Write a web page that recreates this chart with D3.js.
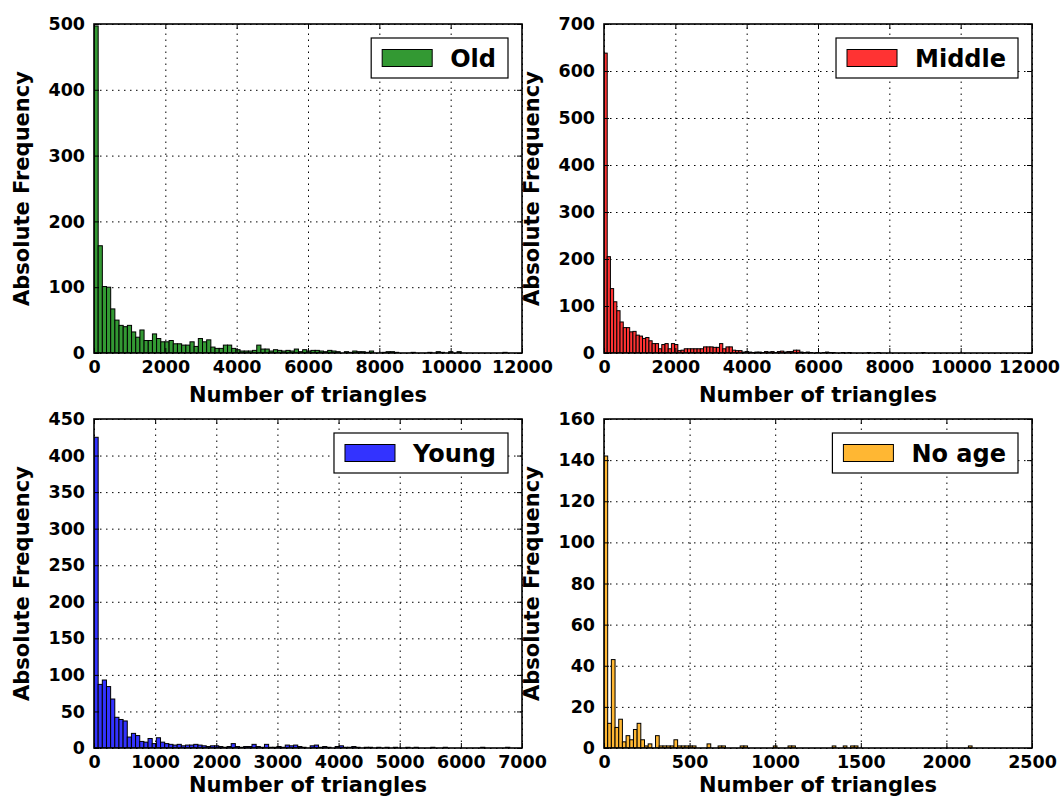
<!DOCTYPE html>
<html lang="en">
<head>
<meta charset="utf-8">
<title>Number of triangles by age</title>
<style>
	body { margin: 0; background: #fff; }
	svg text { font-family: "DejaVu Sans", sans-serif; font-weight: bold; fill: #000; }
	.grid line { stroke: #000; stroke-width: 1; stroke-dasharray: 1.5,4.5; }
	.grid path { display: none; }
	.axis path { display: none; }
	.axis line { stroke: #000; stroke-width: 1; }
</style>
</head>
<body>
<div id="chart"></div>
<script src="https://d3js.org/d3.v7.min.js"></script>
<script>

// histogram counts per bin
const oldCounts = [497,163,101,100,67,50,42,40,42,32,24,35,19,19,29,22,17,17,19,14,
	14,12,12,17,10,22,17,20,9,7,7,12,12,7,5,3,3,3,4,12,
	6,6,3,5,4,3,4,3,6,2,5,3,4,4,3,2,4,3,2,0,
	2,1,3,2,2,1,3,0,0,1,2,2,1,0,0,0,1,0,0,0,
	1,0,2,1,0,2,0,2,0,0,0,0,0,0,0,0,0,0,1,0];
const middleCounts = [638,205,137,109,90,66,54,54,45,46,38,36,31,33,26,20,20,9,18,20,
	9,20,18,5,6,9,9,9,9,9,9,13,13,13,12,12,20,9,13,13,
	6,5,5,2,3,2,1,2,2,1,3,2,3,1,3,4,2,3,3,6,
	6,2,1,2,1,0,1,0,1,2,1,1,0,0,1,0,1,0,0,0,
	0,0,1,0,0,1,0,0,0,0,0,0,0,0,0,0,0,0,0,1];
const youngCounts = [425,87,93,84,67,42,39,37,15,20,17,9,8,13,6,14,8,6,5,4,
	5,3,4,4,5,4,3,2,3,3,2,1,2,6,2,1,2,2,5,2,
	1,5,1,1,2,1,4,3,4,2,1,0,3,4,1,2,1,0,2,3,
	1,1,2,1,0,1,1,0,1,0,1,0,1,0,0,1,0,1,0,0,
	0,1,0,0,1,0,0,0,0,0,0,0,0,1,0,0,0,0,0,1];
const noAgeCounts = [142,12,43,10,14,3,6,4,9,12,4,1,2,0,6,1,1,1,1,4,
	1,1,1,1,1,0,0,0,2,0,0,1,1,0,0,0,0,1,1,0,
	0,0,0,0,0,0,1,0,0,0,1,1,0,0,0,0,0,0,0,0,
	0,0,1,0,0,1,0,1,1,0,0,0,0,0,0,0,0,0,0,0,
	0,0,0,0,0,0,0,0,0,0,0,0,0,0,0,0,0,0,0,1];

// upper edge of the last bin of each histogram
const dataMax = [11700, 9000, 6800, 2150];

const labels = ["Old", "Middle", "Young", "No age"];
const colors = ["#339933", "#ff3333", "#3333ff", "#ffb733"];

const xTicks = [
	[0, 2000, 4000, 6000, 8000, 10000, 12000],
	[0, 2000, 4000, 6000, 8000, 10000, 12000],
	[0, 1000, 2000, 3000, 4000, 5000, 6000, 7000],
	[0, 500, 1000, 1500, 2000, 2500]
];
const yTicks = [
	[0, 100, 200, 300, 400, 500],
	[0, 100, 200, 300, 400, 500, 600, 700],
	[0, 50, 100, 150, 200, 250, 300, 350, 400, 450],
	[0, 20, 40, 60, 80, 100, 120, 140, 160]
];

const allCounts = [oldCounts, middleCounts, youngCounts, noAgeCounts];

// layout of the 2x2 grid
const W = 1061, H = 798;
const lefts = [94, 604], tops = [24, 419];
const pw = 428, ph = 329;

const svg = d3.select("#chart")
	.append("svg")
	.attr("width", W)
	.attr("height", H);

allCounts.forEach(function (counts, k) {
	const col = k % 2, row = Math.floor(k / 2);
	const xt = xTicks[k], yt = yTicks[k];

	const g = svg.append("g")
		.attr("transform", "translate(" + lefts[col] + "," + tops[row] + ")");

	const x = d3.scaleLinear()
		.domain([0, xt[xt.length - 1]])
		.range([0, pw]);
	const y = d3.scaleLinear()
		.domain([0, yt[yt.length - 1]])
		.range([ph, 0]);

	g.append("clipPath").attr("id", "clip" + k)
		.append("rect").attr("width", pw).attr("height", ph);

	// grid
	g.append("g").attr("class", "grid")
		.attr("transform", "translate(0," + ph + ")")
		.call(d3.axisBottom(x).tickValues(xt).tickSize(-ph).tickFormat(""));
	g.append("g").attr("class", "grid")
		.call(d3.axisLeft(y).tickValues(yt).tickSize(-pw).tickFormat(""));

	// bars
	const bw = dataMax[k] / counts.length;
	const bars = counts.map(function (c, i) { return { i: i, c: c }; })
		.filter(function (d) { return d.c > 0; });
	g.append("g")
		.attr("clip-path", "url(#clip" + k + ")")
		.selectAll("rect")
		.data(bars)
		.enter()
		.append("rect")
		.attr("x", function (d) { return x(d.i * bw); })
		.attr("width", function (d) { return x((d.i + 1) * bw) - x(d.i * bw); })
		.attr("y", function (d) { return y(d.c); })
		.attr("height", function (d) { return ph - y(d.c); })
		.attr("fill", colors[k])
		.attr("stroke", "#000")
		.attr("stroke-width", 1);

	// axes, ticks pointing inwards on all sides
	const xAxisG = g.append("g").attr("class", "axis")
		.attr("transform", "translate(0," + ph + ")")
		.style("font-size", "17.5px")
		.call(d3.axisBottom(x).tickValues(xt).tickSize(-5).tickPadding(8).tickFormat(d3.format("d")));
	g.append("g").attr("class", "axis")
		.style("font-size", "17.5px")
		.call(d3.axisLeft(y).tickValues(yt).tickSize(-5).tickPadding(9).tickFormat(d3.format("d")));
	g.append("g").attr("class", "axis")
		.call(d3.axisTop(x).tickValues(xt).tickSize(-5).tickFormat(""));
	g.append("g").attr("class", "axis")
		.attr("transform", "translate(" + pw + ",0)")
		.call(d3.axisRight(y).tickValues(yt).tickSize(-5).tickFormat(""));
	g.selectAll(".axis text")
		.style("font-family", "'DejaVu Sans', sans-serif")
		.style("font-weight", "bold")
		.attr("fill", "#000");

	// keep the last x label inside the page
	xAxisG.selectAll("text").each(function () {
		const b = this.getBoundingClientRect();
		if (b.right > W - 1) d3.select(this).attr("dx", -(b.right - (W - 1)));
	});

	// frame
	g.append("rect")
		.attr("width", pw).attr("height", ph)
		.attr("fill", "none").attr("stroke", "#000").attr("stroke-width", 1.6);

	// axis labels
	g.append("text")
		.attr("x", pw / 2).attr("y", ph + (row === 0 ? 49 : 44))
		.attr("text-anchor", "middle")
		.style("font-size", "21px")
		.text("Number of triangles");
	g.append("text")
		.attr("transform", "translate(" + (22 - lefts[0]) + "," + (ph / 2) + ") rotate(-90)")
		.attr("text-anchor", "middle")
		.attr("dominant-baseline", "central")
		.style("font-size", "21px")
		.text("Absolute Frequency");

	// legend
	const leg = g.append("g");
	const box = leg.append("rect")
		.attr("fill", "#fff").attr("stroke", "#000").attr("stroke-width", 1.2);
	const txt = leg.append("text")
		.style("font-size", "24px")
		.attr("dominant-baseline", "central")
		.text(labels[k]);
	const tw = txt.node().getComputedTextLength();
	const bwid = 11 + 50 + 18 + tw + 12;
	const bx = pw - 14 - bwid, by = 14, bh = 40;
	box.attr("x", bx).attr("y", by).attr("width", bwid).attr("height", bh);
	leg.append("rect")
		.attr("x", bx + 11).attr("y", by + bh / 2 - 8.5)
		.attr("width", 50).attr("height", 17)
		.attr("fill", colors[k]).attr("stroke", "#000").attr("stroke-width", 1);
	txt.attr("x", bx + 11 + 50 + 18).attr("y", by + bh / 2 + 1);
});

</script>
</body>
</html>
